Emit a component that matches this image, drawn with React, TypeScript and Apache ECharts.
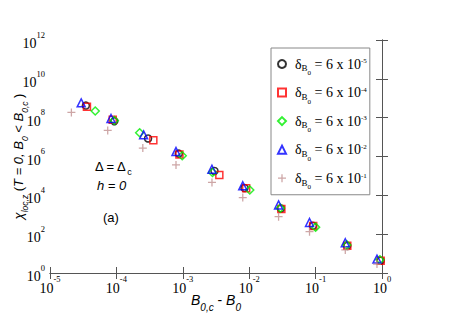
import React, { useEffect, useRef } from "react";
import * as echarts from "echarts";

// B_{0,c} - B_0 values and chi values for each delta_B0 series
const X_D5 = [3.47e-5, 9.3e-5, 3.0e-4, 8.7e-4, 3.0e-3, 8.5e-3, 3.0e-2, 9.1e-2, 0.3, 0.955];
const Y_D5 = [4.2e8, 6.5e7, 8.5e6, 1.4e6, 1.8e5, 2.4e4, 2.1e3, 270, 25, 4.3];

const X_D4 = [3.6e-5, 8.8e-5, 3.6e-4, 8.9e-4, 3.55e-3, 9.0e-3, 3.05e-2, 9.2e-2, 0.3, 0.955];
const Y_D4 = [3.7e8, 7.8e7, 6.8e6, 1.26e6, 1.1e5, 2.3e4, 2.0e3, 260, 25, 4.3];

const X_D3 = [4.8e-5, 9.3e-5, 2.24e-4, 9.8e-4, 2.8e-3, 1.02e-2, 2.95e-2, 0.1, 0.295, 0.93];
const Y_D3 = [2.2e8, 7.1e7, 1.66e7, 1.1e6, 1.5e5, 1.9e4, 2.2e3, 230, 28, 4.8];

const X_D2 = [2.95e-5, 8.3e-5, 2.57e-4, 7.9e-4, 2.75e-3, 8.0e-3, 2.77e-2, 8.1e-2, 0.28, 0.84];
const Y_D2 = [5.8e8, 9.1e7, 1.3e7, 1.8e6, 2.2e5, 3.1e4, 3.2e3, 400, 36, 5.2];

const X_D1 = [2.1e-5, 7.4e-5, 2.5e-4, 7.9e-4, 2.75e-3, 8.0e-3, 2.77e-2, 8.1e-2, 0.28, 0.84];
const Y_D1 = [1.86e8, 2.2e7, 2.7e6, 3.7e5, 4.6e4, 7.7e3, 800, 135, 15.5, 2.9];

const LEGEND_EXP = ["-5", "-4", "-3", "-2", "-1"];
const X_TICK_EXP = [-5, -4, -3, -2, -1, 0];
const Y_TICK_EXP = [0, 2, 4, 6, 8, 10, 12];

const SERIF = "Liberation Serif";
const SANS = "Liberation Sans";
const PLUS = "path://M4.2,0L5.8,0L5.8,10L4.2,10Z M0,4.2L10,4.2L10,5.8L0,5.8Z";
const AXIS_COLOR = "#555";

function pts(xs: number[], ys: number[]) {
  return xs.map((x, i) => [Math.log10(x), Math.log10(ys[i])]);
}

const names = LEGEND_EXP.map((e) => `δB0 = 6 x 10${e}`);

export default function App() {
  const ref = useRef<HTMLDivElement>(null);
  useEffect(() => {
    if (!ref.current) return;
    const chart = echarts.init(ref.current, undefined, { renderer: "svg" });
    const tickRich = {
      b: { fontFamily: SERIF, fontSize: 14, lineHeight: 18, color: "#000" },
      s: { fontFamily: SERIF, fontSize: 8.5, lineHeight: 1, height: 0.5, verticalAlign: "top", color: "#000" },
    };
    const subRich = (size: number, sub: number, lh: number, h: number) => ({
      i: { fontFamily: SANS, fontStyle: "italic", fontSize: size, lineHeight: lh, color: "#000" },
      t: { fontFamily: SANS, fontStyle: "normal", fontSize: size, lineHeight: lh, color: "#000" },
      s: { fontFamily: SANS, fontStyle: "italic", fontSize: sub, lineHeight: 1, height: h, verticalAlign: "bottom", color: "#000" },
    });
    const mk = (name: string, data: number[][], symbol: string, size: number, color: string, empty: boolean) => ({
      type: "scatter",
      name,
      data,
      symbol,
      symbolSize: size,
      xAxisIndex: 0,
      yAxisIndex: 0,
      itemStyle: empty
        ? { color: "rgba(0,0,0,0)", borderColor: color, borderWidth: 1.5 }
        : { color, borderWidth: 0 },
      emphasis: { disabled: true },
    });
    const xBase = {
      type: "value",
      min: -5,
      max: 0,
      interval: 1,
      splitLine: { show: false },
      axisLine: { show: true, lineStyle: { color: AXIS_COLOR, width: 1 } },
      axisTick: { show: true, inside: true, length: 6, lineStyle: { color: AXIS_COLOR } },
    };
    const yBase = {
      type: "value",
      min: 0,
      max: 12,
      interval: 2,
      splitLine: { show: false },
      axisLine: { show: true, lineStyle: { color: AXIS_COLOR, width: 1 } },
      axisTick: { show: true, inside: true, length: 6, lineStyle: { color: AXIS_COLOR } },
    };
    chart.setOption({
      animation: false,
      backgroundColor: "#fff",
      grid: { left: 50, right: 75, top: 40, bottom: 50, containLabel: false, outerBoundsMode: "none" },
      xAxis: [
        {
          ...xBase,
          position: "bottom",
          axisLabel: {
            margin: 6,
            formatter: (v: number) => (X_TICK_EXP.includes(Math.round(v)) ? `{b|10}{s|${Math.round(v)}}` : ""),
            rich: tickRich,
          },
          name: "{i|B}{s|0,c}{t| - }{i|B}{s|0}",
          nameLocation: "middle",
          nameGap: 17,
          nameMoveOverlap: false,
          nameTextStyle: { rich: subRich(14, 10, 20, 5.2) },
        },
        { ...xBase, position: "top", axisLabel: { show: false } },
      ],
      yAxis: [
        {
          ...yBase,
          position: "left",
          axisLabel: {
            margin: 5,
            padding: [7, 0, 0, 0],
            formatter: (v: number) => (Y_TICK_EXP.includes(Math.round(v)) ? `{b|10}{s|${Math.round(v)}}` : ""),
            rich: tickRich,
          },
          name: "{i|χ}{s|loc,z}{t| (}{i|T}{t| = }{i|0, B}{s|0}{t| < }{i|B}{s|0,c}{t| )}",
          nameLocation: "middle",
          nameRotate: 90,
          nameGap: 22,
          nameMoveOverlap: false,
          nameTextStyle: { rich: subRich(13, 8.5, 20, 6) },
        },
        { ...yBase, position: "right", axisLabel: { show: false } },
      ],
      legend: {
        left: 271,
        top: 48,
        orient: "vertical",
        data: names,
        itemWidth: 8,
        itemHeight: 8,
        itemGap: 4,
        padding: [4, 3, 4, 6],
        borderColor: "#888",
        borderWidth: 1,
        backgroundColor: "#fff",
        selectedMode: false,
        formatter: (name: string) => {
          const i = names.indexOf(name);
          return `{p| }{t|δ}{b|B}{z|0}{t| = 6 x 10}{e|${LEGEND_EXP[i]}}`;
        },
        textStyle: {
          lineHeight: 24,
          rich: {
            p: { fontFamily: SERIF, fontSize: 13, lineHeight: 24, width: 4 },
            t: { fontFamily: SERIF, fontSize: 14, lineHeight: 24, color: "#000" },
            b: { fontFamily: SERIF, fontSize: 9, lineHeight: 1, height: 15.3, verticalAlign: "bottom", color: "#000" },
            z: { fontFamily: SERIF, fontSize: 7, lineHeight: 1, height: 5.9, verticalAlign: "bottom", color: "#000" },
            e: { fontFamily: SERIF, fontSize: 7, lineHeight: 1, height: 18.7, verticalAlign: "top", color: "#000" },
          },
        },
      },
      graphic: [
        {
          type: "text",
          left: 95,
          top: 160,
          style: {
            text: "{t|Δ = Δ}{s|c}",
            rich: {
              t: { fontFamily: SANS, fontSize: 13, lineHeight: 18, fill: "#000" },
              s: { fontFamily: SANS, fontSize: 9, lineHeight: 1, height: 7.2, verticalAlign: "bottom", fill: "#000" },
            },
          },
        },
        {
          type: "text",
          left: 97,
          top: 179,
          style: { text: "h = 0", font: "italic 13px 'Liberation Sans'", fill: "#000" },
        },
        {
          type: "text",
          left: 103,
          top: 211,
          style: { text: "(a)", font: "13px 'Liberation Sans'", fill: "#000" },
        },
      ],
      series: [
        mk(names[0], pts(X_D5, Y_D5), "circle", 7, "#000", true),
        mk(names[1], pts(X_D4, Y_D4), "rect", 7, "#ff0000", true),
        mk(names[2], pts(X_D3, Y_D3), "diamond", 8, "#00ee00", true),
        mk(names[3], pts(X_D2, Y_D2), "triangle", 8, "#0000ff", true),
        mk(names[4], pts(X_D1, Y_D1), PLUS, 8, "#c09090", false),
      ],
    });
    return () => chart.dispose();
  }, []);
  return <div ref={ref} style={{ position: "absolute", left: 0, top: 0, width: 457, height: 323 }} />;
}
